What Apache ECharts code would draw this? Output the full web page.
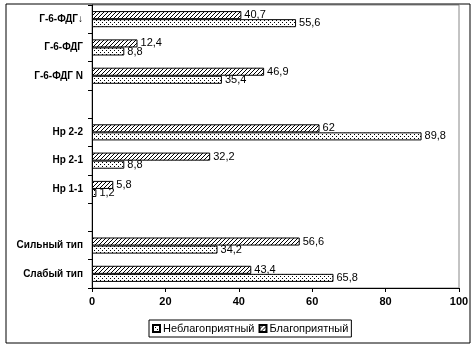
<!DOCTYPE html>
<html>
<head>
<meta charset="utf-8">
<script src="https://cdn.jsdelivr.net/npm/echarts@6/dist/echarts.min.js"></script>
<style>
html,body{margin:0;padding:0;background:#fff;}
#chart{width:476px;height:348px;}
</style>
</head>
<body>
<div id="chart"></div>
<script>
var categories = ['Г-6-ФДГ↓', 'Г-6-ФДГ', 'Г-6-ФДГ N', '', 'Нр 2-2', 'Нр 2-1', 'Нр 1-1', '', 'Сильный тип', 'Слабый тип'];
var favorable = [40.7, 12.4, 46.9, '-', 62, 32.2, 5.8, '-', 56.6, 43.4];
var unfavorable = [55.6, 8.8, 35.4, '-', 89.8, 8.8, 1.2, '-', 34.2, 65.8];
var xTicks = [0, 20, 40, 60, 80, 100];

// fill patterns like the old office chart
function makePattern(kind) {
    var c = document.createElement('canvas');
    c.width = 4; c.height = 4;
    var ctx = c.getContext('2d');
    ctx.fillStyle = '#fff';
    ctx.fillRect(0, 0, 4, 4);
    ctx.fillStyle = '#000';
    if (kind == 'hatch') {
        ctx.fillRect(3, 0, 1, 1);
        ctx.fillRect(2, 1, 1, 1);
        ctx.fillRect(1, 2, 1, 1);
        ctx.fillRect(0, 3, 1, 1);
    } else {
        ctx.fillRect(0, 0, 1, 1);
        ctx.fillRect(2, 2, 1, 1);
    }
    return {image: c, repeat: 'repeat'};
}

function fmt(p) {
    return String(p.value).replace('.', ',');
}

var myChart = echarts.init(document.getElementById('chart'));
var option = {
    backgroundColor: '#FFFFFF',
    animation: false,
    graphic: [{
        type: 'rect',
        shape: {x: 6, y: 4, width: 464, height: 339},
        style: {fill: 'none', stroke: '#000', lineWidth: 1}
    }],
    grid: {
        left: 92,
        right: 17,
        top: 5,
        bottom: 60,
        show: true,
        borderColor: '#888',
        borderWidth: 1
    },
    legend: {
        bottom: 11,
        left: 149,
        orient: 'horizontal',
        icon: 'rect',
        itemWidth: 7,
        itemHeight: 7,
        itemGap: 4,
        borderColor: '#000',
        borderWidth: 1,
        borderRadius: 0,
        padding: [3, 3, 3, 3],
        textStyle: {fontFamily: 'Arial, Liberation Sans', fontSize: 11, color: '#000', padding: [0, 0, 0, -2]},
        data: ['Неблагоприятный', 'Благоприятный']
    },
    xAxis: {
        type: 'value',
        min: 0,
        max: 100,
        interval: 20,
        splitLine: {show: false},
        axisLine: {show: true, lineStyle: {color: '#000'}},
        axisTick: {show: true, length: 4, lineStyle: {color: '#000'}},
        axisLabel: {
            margin: 8,
            fontFamily: 'Arial, Liberation Sans',
            fontWeight: 'bold',
            fontSize: 11,
            color: '#000'
        }
    },
    yAxis: {
        type: 'category',
        inverse: true,
        data: categories,
        axisLine: {show: true, lineStyle: {color: '#000'}},
        axisTick: {show: true, length: 4, lineStyle: {color: '#000'}},
        axisLabel: {
            margin: 9,
            fontFamily: 'Arial, Liberation Sans',
            fontWeight: 'bold',
            fontSize: 10,
            color: '#000'
        }
    },
    series: [
        {
            name: 'Благоприятный',
            type: 'bar',
            barGap: '0%',
            barCategoryGap: '43%',
            itemStyle: {color: makePattern('hatch'), borderColor: '#000', borderWidth: 1},
            label: {
                show: true, position: 'right', distance: 3, formatter: fmt,
                fontFamily: 'Arial, Liberation Sans', fontSize: 11, color: '#000'
            },
            data: favorable
        },
        {
            name: 'Неблагоприятный',
            type: 'bar',
            barGap: '0%',
            barCategoryGap: '43%',
            itemStyle: {color: makePattern('dot'), borderColor: '#000', borderWidth: 1},
            label: {
                show: true, position: 'right', distance: 3, formatter: fmt,
                fontFamily: 'Arial, Liberation Sans', fontSize: 11, color: '#000'
            },
            data: unfavorable
        }
    ]
};
myChart.setOption(option);
</script>
</body>
</html>
